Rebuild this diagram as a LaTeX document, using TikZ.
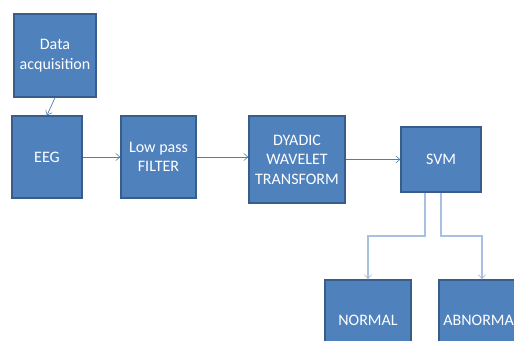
\documentclass[tikz,border=0pt]{standalone}
\usepackage{fontspec}
\setmainfont{Carlito}
\usetikzlibrary{arrows.meta}
\definecolor{boxfill}{HTML}{4F81BD}
\definecolor{boxdraw}{HTML}{385D8A}
\definecolor{arrowcol}{HTML}{4A7EBB}
\definecolor{lightarrow}{HTML}{A9C1E0}
\tikzset{
  blk/.style={draw=boxdraw, line width=1.3pt, fill=boxfill, text=white, align=center,
    inner sep=0pt, font=\fontsize{16}{19.5}\selectfont},
  conn/.style={draw=arrowcol, line width=0.7pt, -{Straight Barb[length=4pt,width=7pt,line width=0.6pt]}},
  lconn/.style={draw=lightarrow, line width=1.4pt, -{Straight Barb[length=4pt,width=7pt,line width=0.8pt]}}
}
\begin{document}
\begin{tikzpicture}[x=1pt,y=1pt]
\useasboundingbox (0,0) rectangle (514,340);
\clip (0,0) rectangle (514,340);
\node[blk, minimum width=82pt, minimum height=83pt] (data) at (55,284.5) {Data\\acquisition};
\node[blk, minimum width=70pt, minimum height=82pt] (eeg) at (47,183) {EEG};
\node[blk, minimum width=75pt, minimum height=82pt] (lpf) at (158.5,183) {Low pass\\FILTER};
\node[blk, minimum width=96pt, minimum height=87pt] (dwt) at (297,180.5) {DYADIC\\WAVELET\\TRANSFORM};
\node[blk, minimum width=80pt, minimum height=65pt] (svm) at (441,180.5) {SVM};
\node[blk, minimum width=86pt, minimum height=80pt] (normal) at (368,20) {NORMAL};
\node[blk, minimum width=86pt, minimum height=80pt] (abnormal) at (482,20) {ABNORMAL};
\draw[conn] (data.south) -- (eeg.north);
\draw[conn] (eeg.east) -- (lpf.west);
\draw[conn] (lpf.east) -- (lpf.east -| dwt.west);
\draw[conn] (dwt.east) -- (svm.west);
\coordinate (turnl) at (425,104);
\coordinate (turnr) at (441,104);
\draw[lconn] ([xshift=-16pt]svm.south) -- (turnl) -| (normal.north);
\draw[lconn] (svm.south) -- (turnr) -| (abnormal.north);
\end{tikzpicture}
\end{document}
